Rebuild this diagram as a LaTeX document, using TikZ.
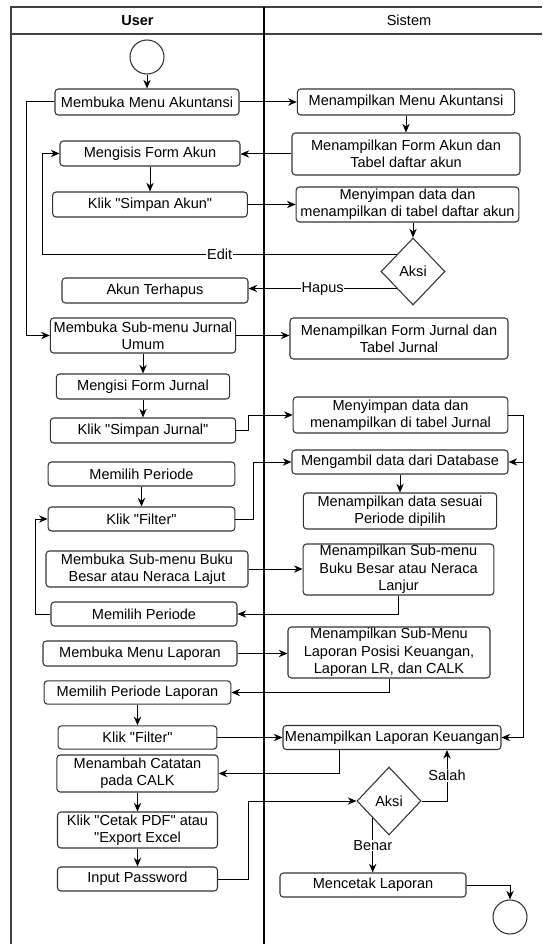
\documentclass[tikz,border=0pt]{standalone}
\usepackage{fontspec}
\setmainfont{Liberation Sans}[Ligatures=TeXOff]
\usepackage{tikz}
\usetikzlibrary{shapes.geometric, arrows.meta, calc}
\tikzstyle{arrow} = [line width=0.75pt,->,>={Stealth[length=6.5pt,width=5.5pt]}]
\tikzstyle{lane} = [line width=0.8pt, draw=black!75]
\tikzstyle{activity} = [rectangle, rounded corners=2.5pt, draw=black!80, line width=0.8pt, fill=white, align=center, inner sep=1pt]
\tikzstyle{decision} = [diamond, draw=black!80, line width=0.8pt, fill=white, inner sep=0pt, minimum width=48pt]
\tikzstyle{state} = [circle, draw=black!80, line width=0.8pt, fill=white, inner sep=0pt, minimum size=25.5pt]
\tikzstyle{guard} = [fill=white, inner sep=0.6pt]

\begin{document}
\begin{tikzpicture}[x=0.75pt, y=-0.75pt, font=\fontsize{10.9}{13}\selectfont]
    \useasboundingbox (0,0) rectangle (542,944);

    % Swimlanes
    \draw[lane] (11,944) -- (11,7) -- (542,7);
    \draw[lane] (11,34) -- (542,34);
    \draw[line width=1.3pt] (264,7) -- (264,944);
    \node[font=\fontsize{10.9}{13}\selectfont\bfseries] (userHead) at (137.5,20.5) {User};
    \node (sistemHead) at (409,20.5) {Sistem};

    % User
    \node[state] (start) at (147,57) {};
    \node[activity, minimum width=138pt, minimum height=19.5pt] (mMenuAkun) at (147,102) {Membuka Menu Akuntansi};
    \node[activity, minimum width=135pt, minimum height=18.75pt] (isiAkun) at (150,153.5) {Mengisis Form Akun};
    \node[activity, minimum width=146pt, minimum height=18.75pt] (simpanAkun) at (150,204.5) {Klik "Simpan Akun"};
    \node[activity, minimum width=139.5pt, minimum height=18.75pt] (hapusAkun) at (155,290.5) {Akun Terhapus};
    \node[activity, minimum width=139pt, minimum height=26.25pt] (mJurnal) at (143,335.5) {Membuka Sub-menu Jurnal\\Umum};
    \node[activity, minimum width=130pt, minimum height=18.75pt] (isiJurnal) at (143,386.5) {Mengisi Form Jurnal};
    \node[activity, minimum width=139pt, minimum height=18.75pt] (simpanJurnal) at (143,430.5) {Klik "Simpan Jurnal"};
    \node[activity, minimum width=140pt, minimum height=18pt] (periode1) at (141.5,474) {Memilih Periode};
    \node[activity, minimum width=140pt, minimum height=18pt] (filter1) at (141.5,519) {Klik "Filter"};
    \node[activity, minimum width=151.5pt, minimum height=27pt] (mBuku) at (147,569) {Membuka Sub-menu Buku\\Besar atau Neraca Lajut};
    \node[activity, minimum width=139.5pt, minimum height=18pt] (periode2) at (144,614) {Memilih Periode};
    \node[activity, minimum width=145.5pt, minimum height=18.75pt] (mLaporan) at (140,653.5) {Membuka Menu Laporan};
    \node[activity, minimum width=140pt, minimum height=17.5pt] (periodeLap) at (137.5,692.5) {Memilih Periode Laporan};
    \node[activity, minimum width=119pt, minimum height=17.5pt] (filter2) at (137.5,737.5) {Klik "Filter"};
    \node[activity, minimum width=121pt, minimum height=27.75pt] (catatan) at (137.5,773.5) {Menambah Catatan\\pada CALK};
    \node[activity, minimum width=120pt, minimum height=27pt] (cetak) at (137.5,830) {Klik "Cetak PDF" atau\\"Export Excel};
    \node[activity, minimum width=120pt, minimum height=18pt] (password) at (137.5,879) {Input Password};

    % Sistem
    \node[activity, minimum width=163pt, minimum height=19.5pt] (tMenuAkun) at (406,102) {Menampilkan Menu Akuntansi};
    \node[activity, minimum width=171pt, minimum height=31.5pt] (tFormAkun) at (406,154) {Menampilkan Form Akun dan\\Tabel daftar akun};
    \node[activity, minimum width=167pt, minimum height=26.25pt] (sAkun) at (407.5,204.5) {Menyimpan data dan\\menampilkan di tabel daftar akun};
    \node[decision, minimum height=50.25pt] (aksi1) at (413,271.5) {Aksi};
    \node[activity, minimum width=163.5pt, minimum height=30.75pt] (tFormJurnal) at (399,338.5) {Menampilkan Form Jurnal dan\\Tabel Jurnal};
    \node[activity, minimum width=161pt, minimum height=27pt] (sJurnal) at (400.5,415) {Menyimpan data dan\\menampilkan di tabel Jurnal};
    \node[activity, minimum width=162pt, minimum height=18pt] (ambil) at (400,462) {Mengambil data dari Database};
    \node[activity, minimum width=145pt, minimum height=27pt] (tPeriode) at (400,511) {Menampilkan data sesuai\\Periode dipilih};
    \node[activity, minimum width=143pt, minimum height=38.25pt] (tBuku) at (398.5,569.5) {Menampilkan Sub-menu\\Buku Besar atau Neraca\\Lanjur};
    \node[activity, minimum width=151.5pt, minimum height=38.25pt] (tSubLap) at (389,652.5) {Menampilkan Sub-Menu\\Laporan Posisi Keuangan,\\Laporan LR, dan CALK};
    \node[activity, minimum width=163.5pt, minimum height=18pt] (tLapKeu) at (392,737.5) {Menampilkan Laporan Keuangan};
    \node[decision, minimum height=51pt] (aksi2) at (389,801) {Aksi};
    \node[activity, minimum width=139.5pt, minimum height=18pt] (cetakLap) at (373,885) {Mencetak Laporan};
    \node[state] (end) at (510,917) {};

    % Akun
    \draw[arrow] (start.south) -- (start.south |- mMenuAkun.north);
    \draw[arrow] (mMenuAkun.east) -- (tMenuAkun.west);
    \draw[arrow] (mMenuAkun.west) -- ++(-28,0) |- (mJurnal.west);
    \draw[arrow] (tMenuAkun.south) -- (tFormAkun.north);
    \draw[arrow] (tFormAkun.west) -- (tFormAkun.west -| isiAkun.east);
    \draw[arrow] (isiAkun.south) -- (simpanAkun.north);
    \draw[arrow] (simpanAkun.east) -- (simpanAkun.east -| sAkun.west);
    \draw[arrow] (aksi1.north |- sAkun.south) -- (aksi1.north);
    \draw[arrow] (aksi1.north west) -| node[guard, pos=0.25] {Edit} ($(isiAkun.west)+(-17,0)$) -- (isiAkun.west);
    \draw[arrow] (aksi1.south west) -- node[guard] {Hapus} (aksi1.south west -| hapusAkun.east);

    % Jurnal
    \draw[arrow] (mJurnal.east) -- (mJurnal.east -| tFormJurnal.west);
    \draw[arrow] (mJurnal.south) -- (isiJurnal.north);
    \draw[arrow] (isiJurnal.south) -- (simpanJurnal.north);
    \draw[arrow] (simpanJurnal.east) -- ++(12,0) |- (sJurnal.west);
    \draw[arrow] (sJurnal.east) -- ++(15,0) |- (ambil.east);
    \draw[arrow] (sJurnal.east) -- ++(15,0) |- (tLapKeu.east);

    % Periode, Buku Besar
    \draw[arrow] (periode1.south) -- (filter1.north);
    \draw[arrow] (filter1.east) -- ++(18,0) |- (ambil.west);
    \draw[arrow] (ambil.south) -- (tPeriode.north);
    \draw[arrow] (mBuku.east) -- (mBuku.east -| tBuku.west);
    \draw[arrow] (tBuku.south) |- (periode2.east);
    \draw[arrow] (periode2.west) -- ++(-15,0) |- (filter1.west);

    % Laporan
    \draw[arrow] (mLaporan.east) -- (mLaporan.east -| tSubLap.west);
    \draw[arrow] (tSubLap.south) |- (periodeLap.east);
    \draw[arrow] (periodeLap.south) -- (filter2.north);
    \draw[arrow] (filter2.east) -- (filter2.east -| tLapKeu.west);
    \draw[arrow] ($(tLapKeu.south)+(-53,0)$) |- (catatan.east);
    \draw[arrow] (catatan.south) -- (cetak.north);
    \draw[arrow] (cetak.south) -- (password.north);
    \draw[arrow] (password.east) -- ++(30,0) |- (aksi2.west);
    \draw[arrow] (aksi2.east) -| node[guard, pos=0.75] {Salah} ($(tLapKeu.south)+(55,0)$);
    \draw[arrow] (aksi2.south west) -- node[guard] {Benar} (aksi2.south west |- cetakLap.north);
    \draw[arrow] (cetakLap.east) -| (end.north);

\end{tikzpicture}
\end{document}
